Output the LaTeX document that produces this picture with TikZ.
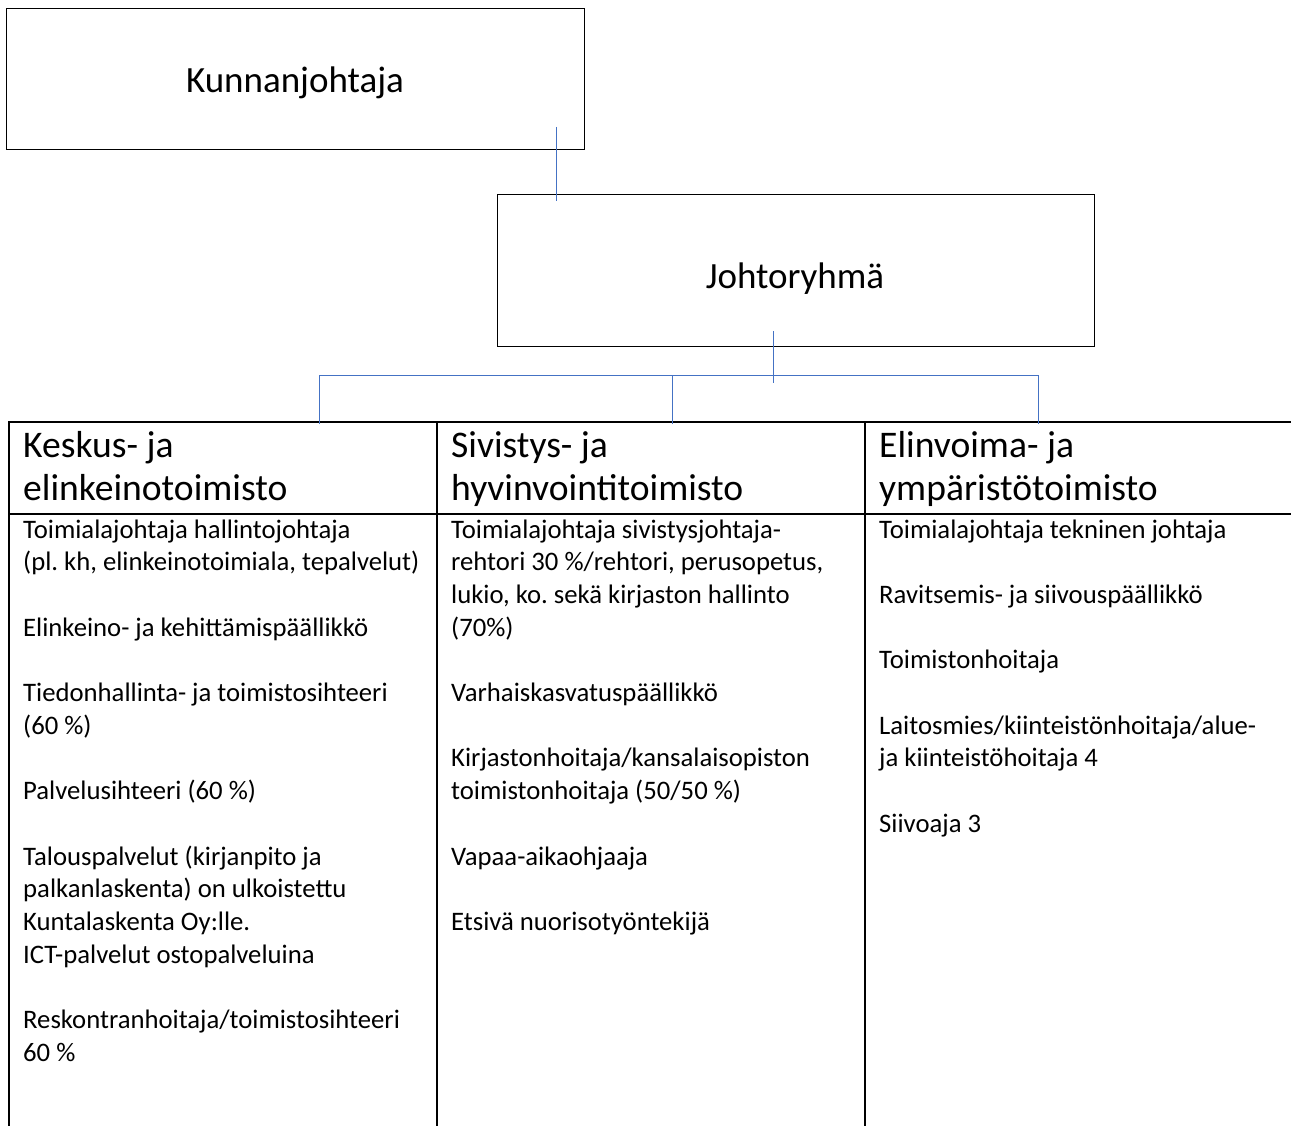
\documentclass[tikz,border=0pt]{standalone}
\usepackage{fontspec}
\setmainfont{Carlito}
\usetikzlibrary{calc}
\definecolor{connblue}{RGB}{68,114,196}
\frenchspacing
\tikzset{
  topbox/.style={draw=black, line width=1pt, inner sep=0pt, anchor=north west},
  cell/.style={draw=black, line width=1.6pt, inner sep=0pt, anchor=north west},
  conn/.style={draw=connblue, line width=0.9pt},
  titletext/.style={anchor=base, inner sep=0pt, font=\fontsize{37}{43}\selectfont},
  headtext/.style={anchor=base west, inner sep=0pt, align=left, font=\fontsize{37.6}{43}\selectfont},
  bodytext/.style={anchor=base west, inner sep=0pt, align=left, font=\fontsize{26.7}{32.7}\selectfont},
}
\begin{document}
\begin{tikzpicture}[x=1pt,y=-1pt]
\useasboundingbox (0,0) rectangle (1291,1126);
% top boxes
\node[topbox, minimum width=578pt, minimum height=141pt] (kj) at (6,8) {};
\node[titletext] (kjt) at (295,93) {Kunnanjohtaja};
\node[topbox, minimum width=597pt, minimum height=152pt] (jr) at (497,194) {};
\node[titletext] (jrt) at (795,289) {Johtoryhmä};
% table cells
\node[cell, minimum width=428pt, minimum height=92pt] (h1) at (8,421) {};
\node[cell, minimum width=428pt, minimum height=92pt] (h2) at (436,421) {};
\node[cell, minimum width=440pt, minimum height=92pt] (h3) at (864,421) {};
\node[cell, minimum width=428pt, minimum height=640pt] (b1) at (8,513) {};
\node[cell, minimum width=428pt, minimum height=640pt] (b2) at (436,513) {};
\node[cell, minimum width=440pt, minimum height=640pt] (b3) at (864,513) {};
% connectors
\draw[conn] ([shift={(550,-23)}]kj.south west) -- ([shift={(59,7)}]jr.north west);
\draw[conn] ([shift={(276,-16)}]jr.south west) -- ++(0,52);
\draw[conn] ([shift={(311,3)}]h1.north west) |- ([shift={(174,-46)}]h3.north west) -- ([shift={(174,3)}]h3.north west);
\draw[conn] ([shift={(236,3)}]h2.north west) -- ++(0,-49);
% header texts (anchor = baseline of last line)
\node[headtext] (h1t) at (23,500) {Keskus- ja\\elinkeinotoimisto};
\node[headtext] (h2t) at (451,500) {Sivistys- ja\\hyvinvointitoimisto};
\node[headtext] (h3t) at (879,500) {Elinvoima- ja\\ympäristötoimisto};
% body texts (anchor = baseline of last line)
\node[bodytext] (b1t) at (23,1061.2) {Toimialajohtaja hallintojohtaja\\(pl. kh, elinkeinotoimiala, tepalvelut)\\\mbox{}\\Elinkeino- ja kehittämispäällikkö\\\mbox{}\\Tiedonhallinta- ja toimistosihteeri\\(60 \%)\\\mbox{}\\Palvelusihteeri (60 \%)\\\mbox{}\\Talouspalvelut (kirjanpito ja\\palkanlaskenta) on ulkoistettu\\Kuntalaskenta Oy:lle.\\ICT-palvelut ostopalveluina\\\mbox{}\\Reskontranhoitaja/toimistosihteeri\\60 \%};
\node[bodytext] (b2t) at (451,930.4) {Toimialajohtaja sivistysjohtaja-\\rehtori 30 \%/rehtori, perusopetus,\\lukio, ko. sekä kirjaston hallinto\\(70\%)\\\mbox{}\\Varhaiskasvatuspäällikkö\\\mbox{}\\Kirjastonhoitaja/kansalaisopiston\\toimistonhoitaja (50/50 \%)\\\mbox{}\\Vapaa-aikaohjaaja\\\mbox{}\\Etsivä nuorisotyöntekijä};
\node[bodytext] (b3t) at (879,832.3) {Toimialajohtaja tekninen johtaja\\\mbox{}\\Ravitsemis- ja siivouspäällikkö\\\mbox{}\\Toimistonhoitaja\\\mbox{}\\Laitosmies/kiinteistönhoitaja/alue-\\ja kiinteistöhoitaja 4\\\mbox{}\\Siivoaja 3};
\end{tikzpicture}
\end{document}
